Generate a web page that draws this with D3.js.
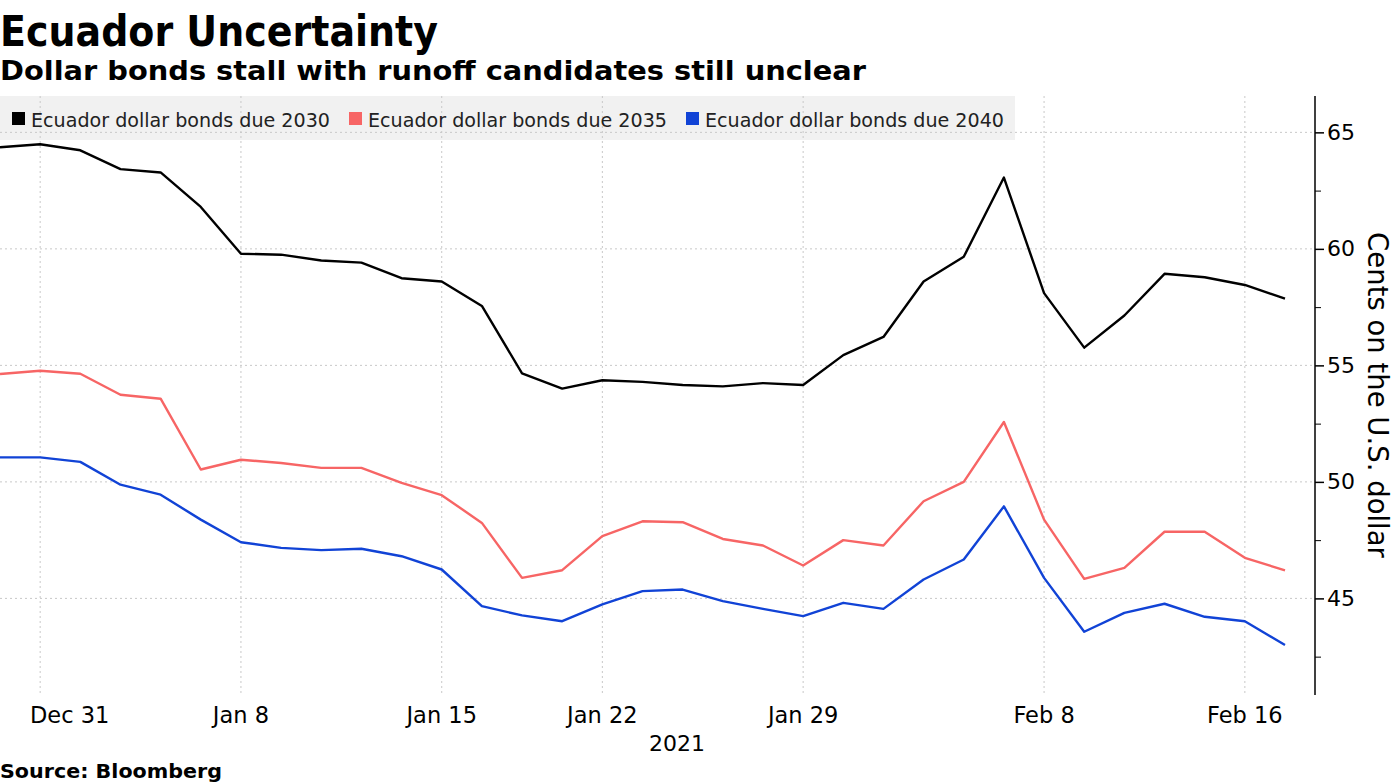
<!DOCTYPE html>
<html>
<head>
<meta charset="utf-8">
<script src="https://cdn.jsdelivr.net/npm/d3@7"></script>
<style>
  html, body { margin: 0; padding: 0; background: #fff; }
  svg { display: block; }
  text { font-family: "DejaVu Sans", sans-serif; }
</style>
</head>
<body>
<svg id="chart" width="1395" height="784"></svg>
<script>
const dates = ["2020-12-30","2020-12-31","2021-01-04","2021-01-05","2021-01-06","2021-01-07","2021-01-08",
  "2021-01-11","2021-01-12","2021-01-13","2021-01-14","2021-01-15",
  "2021-01-19","2021-01-20","2021-01-21","2021-01-22",
  "2021-01-25","2021-01-26","2021-01-27","2021-01-28","2021-01-29",
  "2021-02-01","2021-02-02","2021-02-03","2021-02-04","2021-02-05",
  "2021-02-08","2021-02-09","2021-02-10","2021-02-11","2021-02-12",
  "2021-02-16","2021-02-17"];
const bonds2030 = [64.36,64.49,64.23,63.42,63.28,61.8,59.79,59.75,59.5,59.41,58.74,58.6,
  57.55,54.66,54.0,54.36,54.29,54.16,54.1,54.24,54.16,55.44,56.22,58.6,59.66,63.06,
  58.1,55.76,57.14,58.93,58.78,58.45,57.86];
const bonds2035 = [54.63,54.77,54.64,53.74,53.57,50.53,50.95,50.81,50.6,50.6,49.96,49.43,
  48.24,45.88,46.21,47.67,48.31,48.27,47.55,47.27,46.41,47.5,47.27,49.17,50.0,52.57,
  48.38,45.84,46.31,47.86,47.86,46.74,46.2];
const bonds2040 = [51.05,51.05,50.86,49.88,49.45,48.38,47.41,47.17,47.07,47.13,46.81,46.24,
  44.67,44.27,44.02,44.74,45.31,45.38,44.88,44.55,44.24,44.81,44.55,45.81,46.67,48.95,
  45.88,43.57,44.38,44.77,44.21,44.02,43.0];
const seriesNames = ["Ecuador dollar bonds due 2030","Ecuador dollar bonds due 2035","Ecuador dollar bonds due 2040"];
const seriesColors = ["#000000","#f76565","#1143d6"];
const xTickDates = ["2020-12-31","2021-01-08","2021-01-15","2021-01-22","2021-01-29","2021-02-08","2021-02-16"];
const xTickLabels = ["Dec 31","Jan 8","Jan 15","Jan 22","Jan 29","Feb 8","Feb 16"];
const yTicks = [45,50,55,60,65];
const yMinorTicks = [42.5,47.5,52.5,57.5,62.5];

const svg = d3.select("#chart");
const plotTop = 96, plotBottom = 693, plotRight = 1315;

const x = d3.scalePoint().domain(dates).range([0, 1285]);
const y = d3.scaleLinear().domain([40.94, 66.56]).range([plotBottom, plotTop]);

// Title & subtitle
svg.append("text").attr("x", 0).attr("y", 46)
  .attr("font-size", 43).attr("font-weight", "bold")
  .attr("textLength", 438).attr("lengthAdjust", "spacingAndGlyphs")
  .text("Ecuador Uncertainty");
svg.append("text").attr("x", 0).attr("y", 80)
  .attr("font-size", 27).attr("font-weight", "bold")
  .attr("textLength", 866).attr("lengthAdjust", "spacingAndGlyphs")
  .text("Dollar bonds stall with runoff candidates still unclear");

// Legend background
svg.append("rect").attr("x", 0).attr("y", plotTop).attr("width", 1015).attr("height", 44).attr("fill", "#f1f1f1");

// Grid
const grid = svg.append("g");
grid.selectAll("line.h").data(yTicks).enter().append("line")
  .attr("x1", 0).attr("x2", plotRight)
  .attr("y1", d => y(d)).attr("y2", d => y(d))
  .attr("stroke", "#c8c8c8").attr("stroke-width", 1).attr("stroke-dasharray", "2,3");
grid.selectAll("line.v").data(xTickDates).enter().append("line")
  .attr("x1", d => x(d)).attr("x2", d => x(d))
  .attr("y1", plotTop).attr("y2", plotBottom)
  .attr("stroke", "#c8c8c8").attr("stroke-width", 1).attr("stroke-dasharray", "2,3");

// Legend items
const legendX = [12, 349, 686];
const leg = svg.append("g");
seriesNames.forEach((n, i) => {
  leg.append("rect").attr("x", legendX[i]).attr("y", 112).attr("width", 13).attr("height", 13).attr("fill", seriesColors[i]);
  leg.append("text").attr("x", legendX[i] + 19).attr("y", 127)
    .attr("font-size", 19.5).attr("fill", "#222").attr("textLength", 299).attr("lengthAdjust", "spacingAndGlyphs")
    .text(n);
});

// Lines
const line = d3.line().x((d, i) => x(dates[i])).y(d => y(d));
[bonds2030, bonds2035, bonds2040].forEach((s, i) => {
  svg.append("path").datum(s).attr("d", line)
    .attr("fill", "none").attr("stroke", seriesColors[i]).attr("stroke-width", 2.4)
    .attr("stroke-linejoin", "round");
});

// Right axis
const yAxis = d3.axisRight(y).tickValues(yTicks).tickSize(9).tickPadding(3).tickFormat(d3.format("d"));
const ya = svg.append("g").attr("transform", `translate(${plotRight},0)`).call(yAxis);
ya.select(".domain").remove();
ya.selectAll("text").attr("font-size", 22).attr("font-family", "DejaVu Sans, sans-serif").attr("fill", "#000");
ya.selectAll("line").attr("stroke", "#000").attr("stroke-width", 1.5);
svg.append("line").attr("x1", plotRight).attr("x2", plotRight).attr("y1", plotTop).attr("y2", plotBottom + 2)
  .attr("stroke", "#000").attr("stroke-width", 1.5);
const yMinor = d3.axisRight(y).tickValues(yMinorTicks).tickSize(6).tickFormat("");
const ym = svg.append("g").attr("transform", `translate(${plotRight},0)`).call(yMinor);
ym.select(".domain").remove();
ym.selectAll("line").attr("stroke", "#000").attr("stroke-width", 1);

svg.append("text")
  .attr("transform", `translate(1368, 395) rotate(90)`)
  .attr("text-anchor", "middle").attr("font-size", 27.5).attr("fill", "#000")
  .text("Cents on the U.S. dollar");

// X axis labels
const xa = svg.append("g");
xTickDates.forEach((d, i) => {
  const t = xa.append("text").attr("y", 723).attr("font-size", 22.5).attr("fill", "#000")
    .text(xTickLabels[i]);
  const w = t.node().getComputedTextLength();
  const left = Math.max(x(d) - w / 2, 30);
  t.attr("x", left);
});
svg.append("text").attr("x", 677).attr("y", 751).attr("text-anchor", "middle")
  .attr("font-size", 22).text("2021");

svg.append("text").attr("x", 0).attr("y", 778)
  .attr("font-size", 19).attr("font-weight", "bold")
  .attr("textLength", 222).attr("lengthAdjust", "spacingAndGlyphs")
  .text("Source: Bloomberg");
</script>
</body>
</html>
